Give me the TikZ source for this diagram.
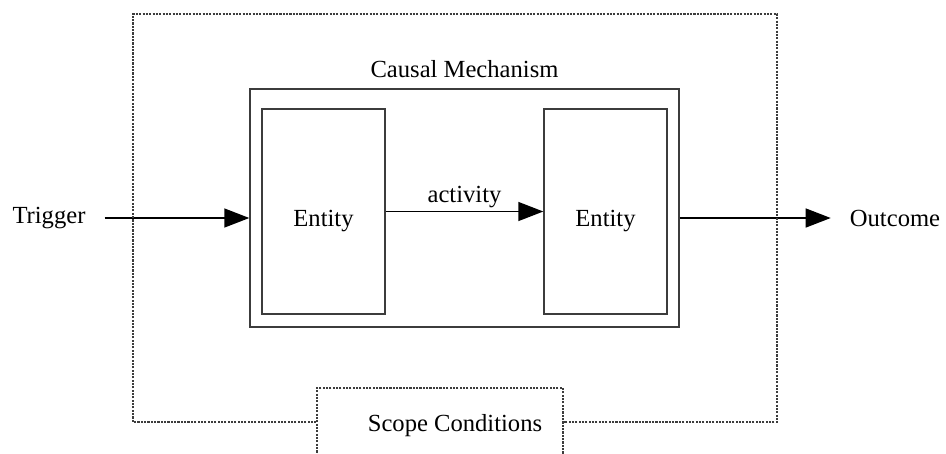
\documentclass[tikz,border=0pt]{standalone}
\usepackage{fontspec}
\setmainfont{Liberation Serif}
\usetikzlibrary{positioning, arrows.meta}
\definecolor{linegray}{RGB}{60, 60, 60}

\begin{document}
\begin{tikzpicture}[
                entbox/.style={draw=linegray, line width=0.8pt,
                    minimum width=2.46cm, minimum height=4.1cm,
                    text height=0.7cm, text depth=0.1cm,
                    font=\fontsize{14}{17}\selectfont},
                mechbox/.style={draw=linegray, line width=0.8pt,
                    minimum width=8.58cm, minimum height=4.76cm},
                scopebox/.style={draw=linegray, dash pattern=on 1.2pt off 0.7pt, line width=0.6pt,
                    minimum width=4.92cm, minimum height=1.6cm},
                frame/.style={linegray, dash pattern=on 1.2pt off 0.7pt, line width=0.6pt},
                lbl/.style={font=\fontsize{14}{17}\selectfont},
                arr/.style={-{Triangle[length=0.5cm, width=0.38cm]}, line width=0.8pt, black}
            ]
                \useasboundingbox (0, 0) rectangle (18.92, -9.06);

                \node[mechbox] (mech) at (9.29, -4.16) {};
                \node[lbl, above=0.08cm of mech] (mechlbl) {Causal Mechanism};

                \node[entbox] (ent1) at (6.47, -4.23) {Entity};
                \node[entbox] (ent2) at (12.11, -4.23) {Entity};

                \draw[arr] (ent1) -- node[lbl, above=-0.05cm] (act) {activity} (ent2);

                \node[lbl] (trig) at (0.98, -4.36) {Trigger};
                \node[lbl] (out) at (17.9, -4.36) {Outcome};

                \draw[arr] ([xshift=0.26cm]trig.east) -- (trig.east -| mech.west);
                \draw[arr] (out.west -| mech.east) -- ([xshift=-0.26cm]out.west);

                % scope frame round the mechanism
                \node[scopebox] (scope) at (8.8, -8.56) {};
                \node[lbl] (scopelbl) at (9.1, -8.52) {Scope Conditions};

                \coordinate (fnw) at (2.66, -0.28);
                \coordinate (fse) at (15.54, -8.44);
                \draw[frame] (scope.west |- fse) -| (fnw) -| (fse) -- (scope.east |- fse);

            \end{tikzpicture}
\end{document}
